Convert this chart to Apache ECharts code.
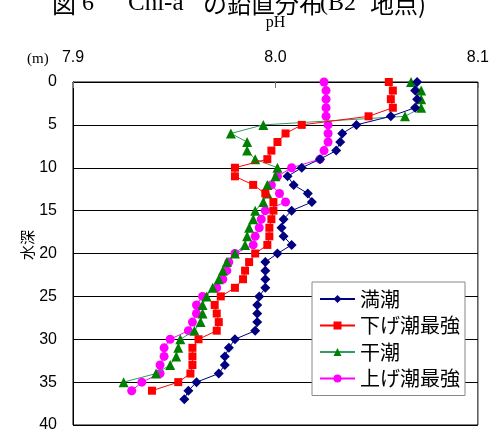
<!DOCTYPE html>
<html><head><meta charset="utf-8">
<script src="https://cdn.jsdelivr.net/npm/echarts@6/dist/echarts.min.js"></script>
<style>html,body{margin:0;padding:0;background:#fff;}#c{width:492px;height:433px;}</style>
</head><body><div id="c"></div>
<script>
const depthsFull = [0,1,2,3,4,5,6,7,8,9,10,11,12,13,14,15,16,17,18,19,20,21,22,23,24,25,26,27,28,29,30,31,32,33,34,35,36,37];
const seriesNames = ['満潮','下げ潮最強','干潮','上げ潮最強'];
const manchoPH = [8.070,8.069,8.070,8.069,8.057,8.040,8.033,8.032,8.030,8.022,8.013,8.006,8.009,8.016,8.018,8.008,8.004,8.003,8.004,8.008,8.001,7.995,7.995,7.995,7.995,7.992,7.991,7.991,7.991,7.990,7.980,7.977,7.975,7.975,7.972,7.961,7.957,7.955];
const sagePH = [8.056,8.058,8.057,8.058,8.046,8.013,8.005,8.001,7.998,7.996,7.980,7.980,7.989,7.995,7.999,7.999,7.998,7.997,7.997,7.996,7.990,7.987,7.985,7.984,7.980,7.973,7.970,7.971,7.972,7.971,7.962,7.959,7.959,7.959,7.958,7.952,7.939];
const kanchoPH = [8.067,8.072,8.072,8.072,8.064,7.994,7.978,7.986,7.986,7.990,8.001,8.000,7.996,7.996,7.994,7.990,7.989,7.987,7.986,7.985,7.980,7.976,7.974,7.972,7.969,7.966,7.964,7.964,7.963,7.960,7.953,7.952,7.951,7.948,7.941,7.925];
const agePH = [8.024,8.025,8.025,8.025,8.025,8.026,8.026,8.026,8.024,8.022,8.008,8.001,7.998,8.002,8.005,7.995,7.993,7.992,7.990,7.989,7.980,7.977,7.976,7.974,7.971,7.964,7.961,7.961,7.959,7.957,7.948,7.945,7.945,7.943,7.943,7.934,7.929];
const xTicks = [7.9, 8.0, 8.1];
const titleParts = ['図','6','Chl-a','の鉛直分布','(B2','地点)'];

function pairs(vals){ return vals.map((v,i)=>[v, depthsFull[i]]); }

const chart = echarts.init(document.getElementById('c'));
const sans = 'Liberation Sans, Arial, sans-serif';
const cjk = 'Noto Sans CJK JP, sans-serif';
const serif = 'Liberation Serif, Times New Roman, serif';
const titleX = [52, 82, 128, 203, 320, 370];
const titleFont = ['24px "Noto Sans CJK JP"','24px "Liberation Serif"','25px "Liberation Serif"','24px "Noto Sans CJK JP"','24px "Liberation Serif"','24px "Noto Sans CJK JP"'];
const titleGraphics = titleParts.map((t,i)=>({type:'text', x:titleX[i], y:16,
  style:{text:t, font:titleFont[i], fill:'#000', verticalAlign:'bottom'}}));
chart.setOption({
  animation:false,
  backgroundColor:'#fff',
  grid:{left:73, top:82, right:9, bottom:7, containLabel:false, show:true, borderColor:'#000', borderWidth:1, backgroundColor:'transparent'},
  graphic:titleGraphics.concat([
    {type:'text', x:27, y:52, style:{text:'(m)', font:'15px "Liberation Serif", serif', fill:'#000'}},
    {type:'text', x:27, y:245, rotation:Math.PI/2, style:{text:'水深', font:'15px "Noto Sans CJK JP", sans-serif', fill:'#000', align:'center', verticalAlign:'middle'}}
  ]),
  xAxis:{type:'value', position:'top', min:7.9, max:8.1, interval:0.1,
    name:'pH', nameLocation:'middle', nameGap:51,
    nameTextStyle:{fontFamily:serif, fontSize:16, color:'#000'},
    axisLine:{show:true, lineStyle:{color:'#000', width:1}},
    axisTick:{show:true, inside:true, length:6, lineStyle:{color:'#777'}},
    axisLabel:{fontFamily:sans, fontSize:16, color:'#000', margin:16,
      formatter:v=>xTicks.indexOf(Math.round(v*10)/10)>=0 ? (Math.round(v*10)/10).toFixed(1) : ''},
    splitLine:{show:false}},
  yAxis:{type:'value', inverse:true, min:0, max:40, interval:5,
    axisLine:{show:true, lineStyle:{color:'#000', width:1}},
    axisTick:{show:false},
    axisLabel:{fontFamily:sans, fontSize:16, color:'#000', margin:16},
    splitLine:{show:true, lineStyle:{color:'#000', width:1}}},
  legend:{orient:'vertical', left:312, top:282, data:seriesNames,
    backgroundColor:'#fff', borderColor:'#888', borderWidth:1,
    padding:[7,5,7,7], itemWidth:35, itemHeight:10, itemGap:6.5,
    textStyle:{fontFamily:cjk, fontSize:20, color:'#000', lineHeight:20}},
  series:[
    {name:'満潮', type:'line', data:pairs(manchoPH), symbol:'diamond', symbolSize:10,
     lineStyle:{color:'#000080', width:1}, itemStyle:{color:'#000080'}, z:4},
    {name:'下げ潮最強', type:'line', data:pairs(sagePH), symbol:'rect', symbolSize:8,
     lineStyle:{color:'#ff0000', width:1}, itemStyle:{color:'#ff0000'}, z:3},
    {name:'干潮', type:'line', data:pairs(kanchoPH), symbol:'triangle', symbolSize:10,
     lineStyle:{color:'#339966', width:1}, itemStyle:{color:'#008000'}, z:2},
    {name:'上げ潮最強', type:'line', data:pairs(agePH), symbol:'circle', symbolSize:9,
     lineStyle:{color:'#ff00ff', width:1}, itemStyle:{color:'#ff00ff'}, z:1}
  ]
});
</script></body></html>
